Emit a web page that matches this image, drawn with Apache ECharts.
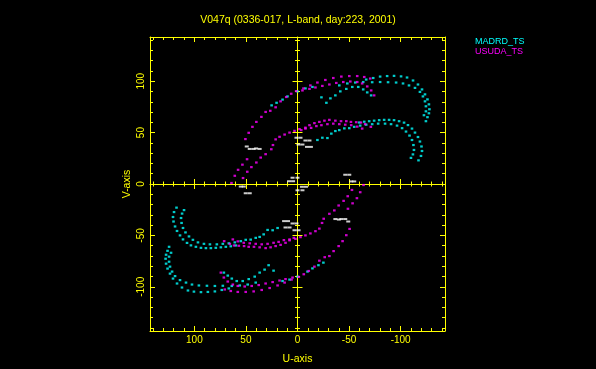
<!DOCTYPE html>
<html><head><meta charset="utf-8">
<script src="https://cdn.jsdelivr.net/npm/echarts@6/dist/echarts.min.js"></script>
<style>html,body{margin:0;padding:0;background:#000}#c{width:596px;height:369px}</style>
</head><body><div id="c"></div>
<script>
// ---------- texts & ticks ----------
const titleText = 'V047q (0336-017, L-band, day:223, 2001)';
const uAxisName = 'U-axis';
const vAxisName = 'V-axis';
const legendNames = ['MADRD_TS', 'USUDA_TS'];
const majorTicks = [-100, -50, 0, 50, 100];
const minorTicks = [-140,-130,-120,-110,-100,-90,-80,-70,-60,-50,-40,-30,-20,-10,0,10,20,30,40,50,60,70,80,90,100,110,120,130,140];

// ---------- MADRD_TS (cyan) tracks [u, v] ----------
const madrdUpperA = [[-66.6,101.6],[-73.4,103.1],[-80.1,104.5],[-86.9,105.0],[-93.6,105.2],[-100.4,104.7],[-106.2,103.6],[-112.0,100.7],[-116.8,96.8],[-120.7,92.0],[-123.6,87.2],[-126.0,82.3],[-127.4,77.5],[-127.9,72.7],[-127.4,68.8],[-126.0,65.0],[-124.5,61.1]];
const madrdUpperB = [[-40.5,95.9],[-48.3,97.8],[-56.0,98.7],[-63.7,99.2],[-72.4,99.0],[-80.1,99.2],[-87.8,99.0],[-95.6,98.7],[-102.3,97.8],[-108.1,95.9],[-113.9,93.5],[-118.7,89.6],[-121.6,85.2],[-123.6,80.4],[-124.5,75.6],[-124.5,70.7],[-122.6,66.9]];
const madrdUpperC = [[-23.2,84.3],[-28.0,79.0],[-31.9,83.3],[-36.7,86.2],[-41.5,90.1],[-47.3,92.5],[-53.1,94.4],[-58.9,94.4],[-63.7,92.0],[-67.6,89.1],[-71.4,86.2]];
const madrdUpperD = [[25.1,76.5],[20.3,79.0],[14.5,82.1],[9.7,85.2],[0,90.1],[-7.7,93.0],[-14.5,94.4]];
const madrdUpperE = [[-59.8,59.8],[-64.7,60.6],[-69.5,61.1],[-74.3,61.6],[-79.2,62.1],[-84.0,62.4],[-88.8,62.4],[-93.6,62.1],[-98.5,61.1],[-103.3,59.7],[-107.1,57.3],[-111.0,53.9],[-113.9,50.0],[-116.8,45.7],[-118.7,41.3],[-120.2,36.5],[-120.7,32.1],[-119.7,27.3],[-117.3,23.0]];
const madrdUpperF = [[-19.3,42.8],[-24.1,45.0],[-29.0,44.7],[-32.8,49.0],[-36.7,51.5],[-40.5,52.4],[-45.4,54.1],[-50.2,54.3],[-55.0,55.6],[-60.8,56.8],[-66.6,57.7],[-72.4,58.2],[-78.2,58.7],[-84.9,58.7],[-90.7,58.2],[-96.5,56.8],[-101.4,54.3],[-105.2,51.0],[-108.6,47.1],[-111.0,42.8],[-112.4,37.9],[-112.9,33.1],[-111.9,28.8],[-110.0,25.4]];
const madrdLowerA = [[66.6,-101.6],[73.4,-103.1],[80.1,-104.5],[86.9,-105.0],[93.6,-105.2],[100.4,-104.7],[106.2,-103.6],[112.0,-100.7],[116.8,-96.8],[120.7,-92.0],[123.6,-87.2],[126.0,-82.3],[127.4,-77.5],[127.9,-72.7],[127.4,-68.8],[126.0,-65.0],[124.5,-61.1]];
const madrdLowerB = [[40.5,-95.9],[48.3,-97.8],[56.0,-98.7],[63.7,-99.2],[72.4,-99.0],[80.1,-99.2],[87.8,-99.0],[95.6,-98.7],[102.3,-97.8],[108.1,-95.9],[113.9,-93.5],[118.7,-89.6],[121.6,-85.2],[123.6,-80.4],[124.5,-75.6],[124.5,-70.7],[122.6,-66.9]];
const madrdLowerC = [[23.2,-84.3],[28.0,-79.0],[31.9,-83.3],[36.7,-86.2],[41.5,-90.1],[47.3,-92.5],[53.1,-94.4],[58.9,-94.4],[63.7,-92.0],[67.6,-89.1],[71.4,-86.2]];
const madrdLowerD = [[-25.1,-76.5],[-20.3,-79.0],[-14.5,-82.1],[-9.7,-85.2],[0,-90.1],[7.7,-93.0],[14.5,-94.4]];
const madrdLowerE = [[59.8,-59.8],[64.7,-60.6],[69.5,-61.1],[74.3,-61.6],[79.2,-62.1],[84.0,-62.4],[88.8,-62.4],[93.6,-62.1],[98.5,-61.1],[103.3,-59.7],[107.1,-57.3],[111.0,-53.9],[113.9,-50.0],[116.8,-45.7],[118.7,-41.3],[120.2,-36.5],[120.7,-32.1],[119.7,-27.3],[117.3,-23.0]];
const madrdLowerF = [[19.3,-42.8],[24.1,-45.0],[29.0,-44.7],[32.8,-49.0],[36.7,-51.5],[40.5,-52.4],[45.4,-54.1],[50.2,-54.3],[55.0,-55.6],[60.8,-56.8],[66.6,-57.7],[72.4,-58.2],[78.2,-58.7],[84.9,-58.7],[90.7,-58.2],[96.5,-56.8],[101.4,-54.3],[105.2,-51.0],[108.6,-47.1],[111.0,-42.8],[112.4,-37.9],[112.9,-33.1],[111.9,-28.8],[110.0,-25.4]];

// ---------- USUDA_TS (magenta) tracks [u, v] ----------
const usudaUpperA = [[64.0,1.0],[60.8,8.0],[57.6,13.8],[53.4,18.8],[48.9,24.1],[50.5,43.7],[47.3,49.8],[43.7,55.6],[39.9,60.4],[35.0,65.3],[30.9,70.1],[26.4,71.2],[21.2,74.6],[16.4,80.4],[10.9,84.6],[6.1,87.8],[1.3,90.4],[-5.8,93.0],[-12.5,95.9],[-19.3,98.7],[-27.0,101.2],[-34.7,103.1],[-42.5,104.5],[-50.2,105.0],[-57.9,105.0],[-64.7,104.1],[-70.5,102.6]];
const usudaUpperB = [[52.8,5.8],[48.7,11.9],[44.7,16.4],[39.9,20.9],[35.7,25.7],[30.9,29.0],[25.4,33.8],[23.8,37.9],[21.2,43.4],[17.4,45.9],[12.5,48.1],[7.7,50.0],[2.9,51.7],[-3.6,52.4],[-7.7,54.8],[-11.6,57.2],[-16.4,59.2],[-21.2,60.4],[-26.1,61.6],[-30.9,62.4],[-36.7,61.6],[-42.2,61.1],[-47.3,61.1],[-51.8,60.4],[-56.9,60.1],[-61.5,59.8],[-65.6,58.2],[-71.1,55.6]];
const usudaUpperC = [[-4.8,91.0],[-11.6,92.5],[-17.4,93.9],[-24.1,95.4],[-30.9,96.8],[-37.6,98.3],[-44.4,99.2],[-51.2,99.7],[-57.9,99.2],[-62.7,97.8],[-67.6,94.9],[-71.4,91.0],[-74.3,86.2]];
const usudaUpperD = [[-1.9,53.4],[-7.7,53.9],[-13.2,54.6],[-18.3,56.3],[-23.2,57.2],[-29.0,58.2],[-34.7,58.7],[-40.5,58.2],[-46.3,57.7],[-52.1,57.2],[-57.9,55.8],[-62.7,53.9]];
const usudaLowerA = [[-64.0,-1.0],[-60.8,-8.0],[-57.6,-13.8],[-53.4,-18.8],[-48.9,-24.1],[-50.5,-43.7],[-47.3,-49.8],[-43.7,-55.6],[-39.9,-60.4],[-35.0,-65.3],[-30.9,-70.1],[-26.4,-71.2],[-21.2,-74.6],[-16.4,-80.4],[-10.9,-84.6],[-6.1,-87.8],[-1.3,-90.4],[5.8,-93.0],[12.5,-95.9],[19.3,-98.7],[27.0,-101.2],[34.7,-103.1],[42.5,-104.5],[50.2,-105.0],[57.9,-105.0],[64.7,-104.1],[70.5,-102.6]];
const usudaLowerB = [[-52.8,-5.8],[-48.7,-11.9],[-44.7,-16.4],[-39.9,-20.9],[-35.7,-25.7],[-30.9,-29.0],[-25.4,-33.8],[-23.8,-37.9],[-21.2,-43.4],[-17.4,-45.9],[-12.5,-48.1],[-7.7,-50.0],[-2.9,-51.7],[3.6,-52.4],[7.7,-54.8],[11.6,-57.2],[16.4,-59.2],[21.2,-60.4],[26.1,-61.6],[30.9,-62.4],[36.7,-61.6],[42.2,-61.1],[47.3,-61.1],[51.8,-60.4],[56.9,-60.1],[61.5,-59.8],[65.6,-58.2],[71.1,-55.6]];
const usudaLowerC = [[4.8,-91.0],[11.6,-92.5],[17.4,-93.9],[24.1,-95.4],[30.9,-96.8],[37.6,-98.3],[44.4,-99.2],[51.2,-99.7],[57.9,-99.2],[62.7,-97.8],[67.6,-94.9],[71.4,-91.0],[74.3,-86.2]];
const usudaLowerD = [[1.9,-53.4],[7.7,-53.9],[13.2,-54.6],[18.3,-56.3],[23.2,-57.2],[29.0,-58.2],[34.7,-58.7],[40.5,-58.2],[46.3,-57.7],[52.1,-57.2],[57.9,-55.8],[62.7,-53.9]];

// ---------- ground baselines (white) [u, v] ----------
const groundUpper = [[49.2,36.5],[46.3,34.1],[42.5,34.1],[40.1,34.6],[36.7,34.1],[1.0,45.0],[-2.9,45.0],[-7.7,42.3],[-11.6,42.3],[-1.0,38.4],[-4.8,38.4],[-9.2,36.1],[-13.0,36.1],[4.8,6.1],[0,6.1],[8.2,2.7],[4.3,2.7],[-46.3,9.0],[-50.2,9.0],[-52.1,2.5],[-55.0,2.5]];
const groundLower = [[-49.2,-36.5],[-46.3,-34.1],[-42.5,-34.1],[-40.1,-34.6],[-36.7,-34.1],[-1.0,-45.0],[2.9,-45.0],[7.7,-42.3],[11.6,-42.3],[1.0,-38.4],[4.8,-38.4],[9.2,-36.1],[13.0,-36.1],[-4.8,-6.1],[0,-6.1],[-8.2,-2.7],[-4.3,-2.7],[46.3,-9.0],[50.2,-9.0],[52.1,-2.5],[55.0,-2.5]];

const madrd = [].concat(madrdUpperA, madrdUpperB, madrdUpperC, madrdUpperD, madrdUpperE, madrdUpperF,
                        madrdLowerA, madrdLowerB, madrdLowerC, madrdLowerD, madrdLowerE, madrdLowerF);
const usuda = [].concat(usudaUpperA, usudaUpperB, usudaUpperC, usudaUpperD,
                        usudaLowerA, usudaLowerB, usudaLowerC, usudaLowerD);
const ground = [].concat(groundUpper, groundLower);

// ---------- styling ----------
const YEL = '#ffff00', CYAN = '#00ffff', MAG = '#ff00ff';
const FONT = 'Liberation Sans';
const AMIN = -143, AMAX = 143;
const HALF_H = 147, HALF_W = 147.5;

function ax(base, extra) {
  return Object.assign({
    type: 'value', min: AMIN, max: AMAX,
    splitLine: { show: false },
    axisLine: { show: false, onZero: false, lineStyle: { color: YEL, width: 1 } },
    axisLabel: { show: false },
    axisTick: { show: false }
  }, base, extra);
}
function ticks(vals, len, inside) {
  return { show: true, customValues: vals, length: len, inside: inside, lineStyle: { color: YEL, width: 1 } };
}
const lineOn = { show: true, onZero: false, lineStyle: { color: YEL, width: 1 } };

function axesSet(dim) {
  const isX = dim === 'x';
  const near = isX ? 'bottom' : 'left';
  const far = isX ? 'top' : 'right';
  const off = isX ? -HALF_H : -HALF_W;
  const b = isX ? { inverse: true } : {};
  const main = ax(b, {
    position: near, axisLine: lineOn, axisTick: ticks(minorTicks, 3, true),
    axisLabel: { show: true, customValues: majorTicks, color: YEL, fontSize: 10, fontFamily: FONT, margin: 4, rotate: isX ? 0 : 90 },
    name: isX ? uAxisName : vAxisName, nameLocation: 'middle', nameGap: isX ? 23 : 17, nameRotate: isX ? 0 : 90,
    nameTextStyle: { color: YEL, fontSize: 10.5, fontFamily: FONT }
  });
  return [
    main,
    ax(b, { position: near, axisTick: ticks(majorTicks, 5, true) }),
    ax(b, { position: far, axisLine: lineOn, axisTick: ticks(minorTicks, 3, true) }),
    ax(b, { position: far, axisTick: ticks(majorTicks, 5, true) }),
    ax(b, { position: near, offset: off, axisLine: lineOn, axisTick: ticks(minorTicks, 2.5, true) }),
    ax(b, { position: near, offset: off, axisTick: ticks(minorTicks, 2.5, false) }),
    ax(b, { position: near, offset: off, axisTick: ticks(majorTicks, 5, true) }),
    ax(b, { position: near, offset: off, axisTick: ticks(majorTicks, 5, false) })
  ];
}

const chart = echarts.init(document.getElementById('c'), null, { renderer: 'canvas' });
chart.setOption({
  animation: false,
  backgroundColor: '#000000',
  title: { text: titleText, left: 'center', top: 10, textStyle: { color: YEL, fontSize: 10.5, fontWeight: 'normal', fontFamily: FONT } },
  legend: {
    orient: 'vertical', left: 470, top: 37, padding: 0, itemWidth: 0, itemHeight: 10, itemGap: 0, icon: 'none',
    selectedMode: false,
    textStyle: { fontSize: 9, fontFamily: FONT, padding: 0 },
    data: [{ name: legendNames[0], textStyle: { color: CYAN } }, { name: legendNames[1], textStyle: { color: MAG } }]
  },
  grid: { left: 150, right: 151, top: 37, bottom: 38, show: false, outerBoundsMode: 'none' },
  xAxis: axesSet('x'),
  yAxis: axesSet('y'),
  series: [
    { name: legendNames[0], type: 'scatter', data: madrd, symbol: 'rect', symbolSize: [2.6, 2.2],
      itemStyle: { color: CYAN }, emphasis: { disabled: true }, silent: true },
    { name: legendNames[1], type: 'scatter', data: usuda, symbol: 'rect', symbolSize: [2.6, 2.2],
      itemStyle: { color: MAG }, emphasis: { disabled: true }, silent: true },
    { name: 'ground', type: 'scatter', data: ground, symbol: 'rect', symbolSize: [4, 2],
      itemStyle: { color: '#ffffff' }, emphasis: { disabled: true }, silent: true }
  ]
});
</script>
</body></html>
